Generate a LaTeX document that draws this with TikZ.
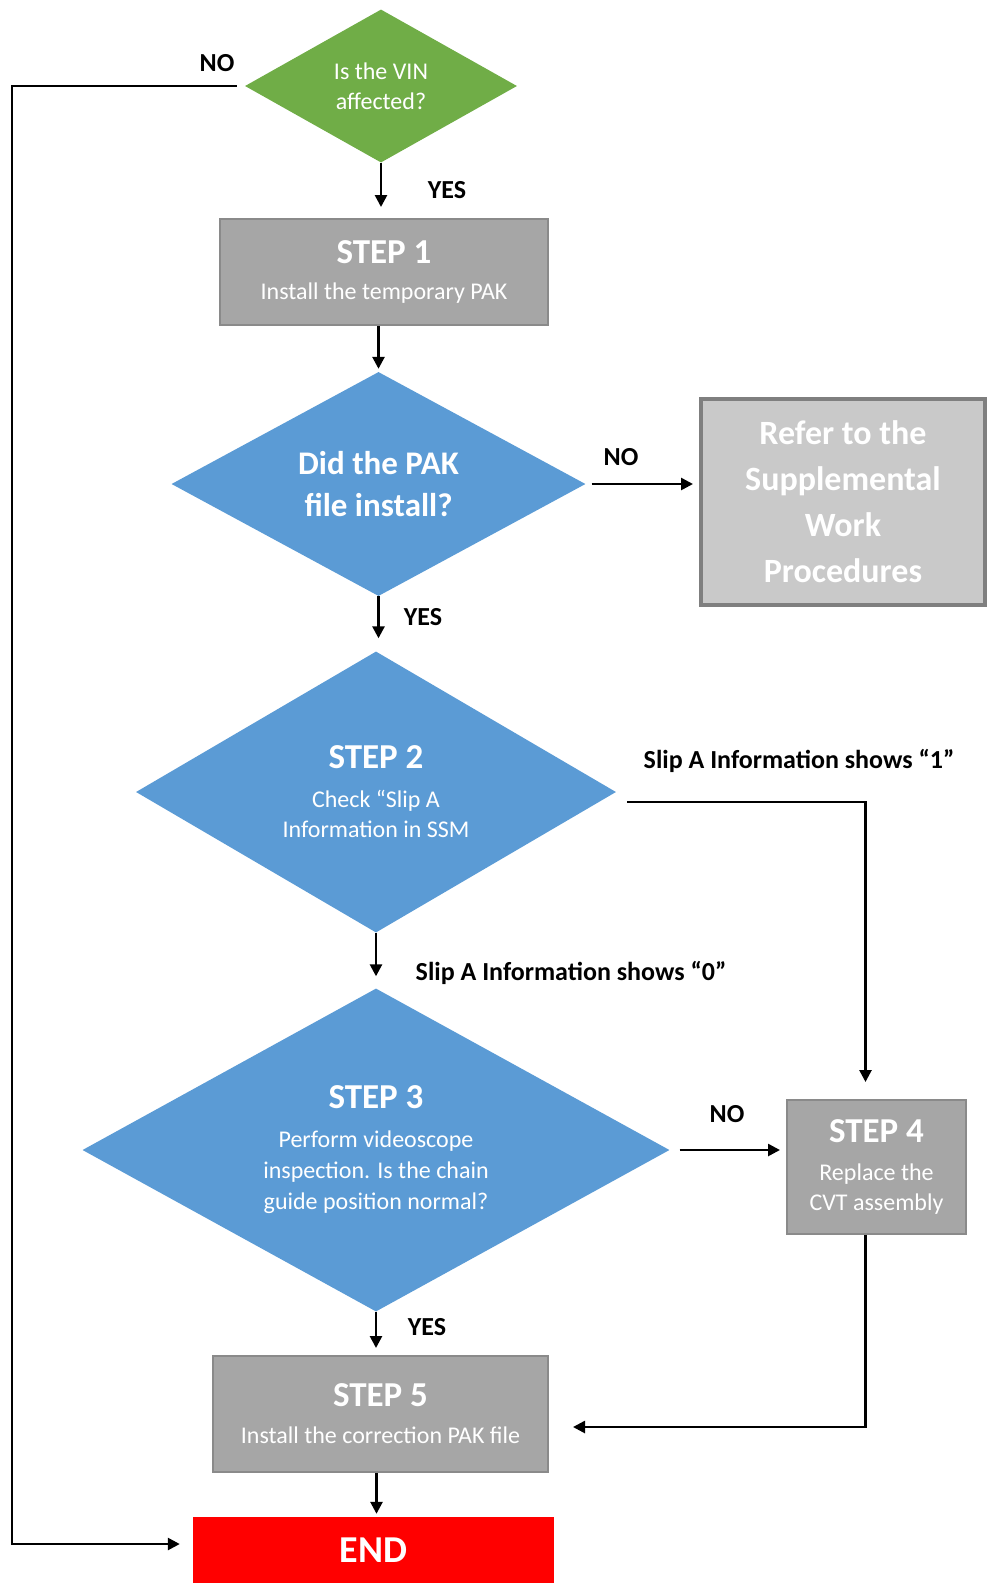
\documentclass[tikz,border=0pt]{standalone}
\usepackage{fontspec}
\setmainfont{Carlito}
\usetikzlibrary{shapes.geometric,arrows.meta,calc}
\definecolor{vgreen}{HTML}{70AD47}
\definecolor{vblue}{HTML}{5B9BD5}
\definecolor{boxgray}{HTML}{A6A6A6}
\definecolor{boxedge}{HTML}{8A8A8A}
\definecolor{suppfill}{HTML}{C9C9C9}
\definecolor{suppedge}{HTML}{7F7F7F}
\definecolor{endred}{HTML}{FF0000}
\newcommand{\ttlfont}{\fontsize{35}{40}\selectfont\bfseries}
\begin{document}
\begin{tikzpicture}[x=1pt,y=-1pt,
  arr/.style={line width=2.6pt,-{Triangle[length=12pt,width=12pt]}},
  ln/.style={line width=2.6pt},
  dia/.style={diamond,inner sep=0pt,align=center,text=white},
  gbox/.style={rectangle,fill=boxgray,draw=boxedge,line width=2pt,text=white,align=center,inner sep=0pt},
  lab/.style={font=\fontsize{26}{30}\selectfont\bfseries,inner sep=0pt},
  sub/.style={font=\fontsize{24}{30}\selectfont}
]
\useasboundingbox (0,0) rectangle (986,1583);

% nodes
\node[dia,fill=vgreen,shape aspect=1.78,minimum width=272pt,minimum height=153pt,font=\fontsize{24}{30}\selectfont] (vin) at (381,86) {Is the VIN\\affected?};
\node[gbox,minimum width=328pt,minimum height=106pt,sub] (s1) at (384,272) {{\ttlfont STEP 1}\\[6pt]Install the temporary PAK};
\node[dia,fill=vblue,shape aspect=1.85,minimum width=414pt,minimum height=224pt,font=\fontsize{33}{42}\selectfont\bfseries] (pak) at (378.5,484) {Did the PAK\\file install?};
\node[rectangle,fill=suppfill,draw=suppedge,line width=4pt,minimum width=284pt,minimum height=206pt,text=white,align=center,inner sep=0pt,font=\fontsize{34}{46}\selectfont\bfseries] (supp) at (843,502) {Refer to the\\Supplemental\\Work\\Procedures};
\node[dia,fill=vblue,shape aspect=1.71,minimum width=480pt,minimum height=281pt,sub] (s2) at (376,792) {{\ttlfont STEP 2}\\[9pt]Check “Slip A\\Information in SSM};
\node[dia,fill=vblue,shape aspect=1.82,minimum width=587pt,minimum height=323pt,font=\fontsize{24}{31}\selectfont] (s3) at (376,1150) {{\ttlfont STEP 3}\\[8pt]Perform videoscope\\inspection. Is the chain\\guide position normal?};
\node[gbox,minimum width=179pt,minimum height=134pt,sub] (s4) at (876.5,1167) {{\ttlfont STEP 4}\\[8pt]Replace the\\CVT assembly};
\node[gbox,minimum width=335pt,minimum height=116pt,sub] (s5) at (380.5,1414) {{\ttlfont STEP 5}\\[7pt]Install the correction PAK file};
\node[rectangle,fill=endred,minimum width=361pt,minimum height=66pt,inner sep=0pt,text=white,font=\fontsize{38}{42}\selectfont\bfseries] (endb) at (373.5,1550) {END};

% coordinate for the left bus
\coordinate (lft) at (12,86);

% connectors
\draw[arr,shorten >=13pt] ([xshift=-8pt]vin.west) -- (lft) |- ([yshift=6pt]endb.west);
\draw[arr,shorten >=11pt] (vin.south) -- (vin.south |- s1.north);
\draw[arr,shorten >=3pt] (pak.north |- s1.south) -- (pak.north);
\draw[arr,shorten <=6pt,shorten >=6pt] (pak.east) -- (pak.east -| supp.west);
\draw[arr,shorten >=13pt] (pak.south) -- (pak.south |- s2.north);
\draw[arr,shorten >=17pt] ([xshift=11pt,yshift=-10pt]s2.east) -| ([xshift=-11pt]s4.north);
\draw[arr,shorten >=12pt] (s2.south) -- (s2.south |- s3.north);
\draw[arr,shorten <=10pt,shorten >=6pt] (s3.east) -- (s3.east -| s4.west);
\draw[arr,shorten >=7pt] (s3.south) -- (s3.south |- s5.north);
\draw[arr,shorten >=24pt] ([xshift=-11pt]s4.south) |- ([yshift=-13pt]s5.east);
\draw[arr,shorten >=3pt] ([xshift=-4pt]s5.south) -- ([xshift=-4pt]s5.south |- endb.north);

% labels
\node[lab] (l1) at (217,63) {NO};
\node[lab] (l2) at (447,190) {YES};
\node[lab] (l3) at (621,457) {NO};
\node[lab] (l4) at (423,617) {YES};
\node[lab] (l5) at (799,761) {Slip A Information shows “1”};
\node[lab] (l6) at (571,973) {Slip A Information shows “0”};
\node[lab] (l7) at (727,1114) {NO};
\node[lab] (l8) at (427,1327) {YES};
\end{tikzpicture}
\end{document}
